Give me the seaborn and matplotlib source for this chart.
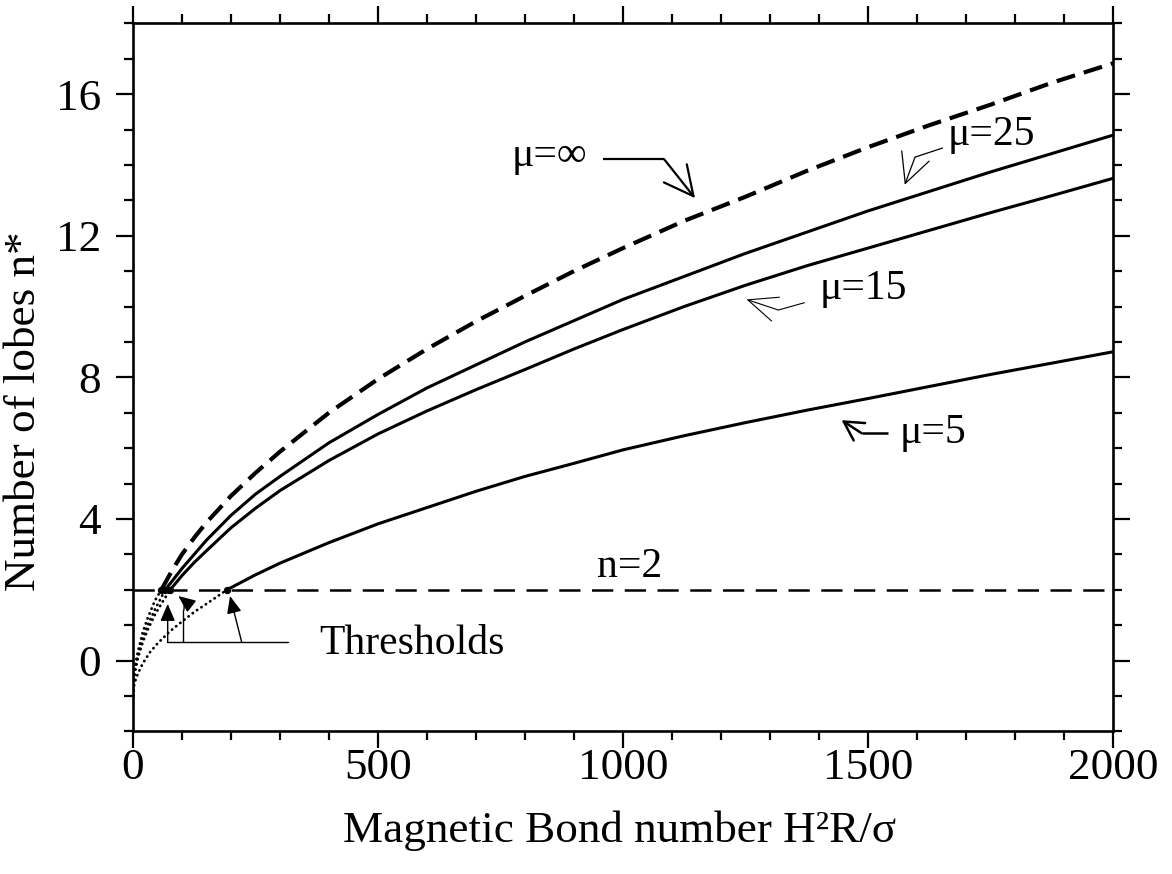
import matplotlib
matplotlib.use("Agg")
import matplotlib.pyplot as plt
import pandas as pd
import seaborn as sns
from matplotlib.ticker import MultipleLocator

# Critical number of lobes n* against magnetic Bond number, per permeability ratio mu.
# "_low" arrays: branch below the n = 2 onset (dotted); others: branch above it (solid / dashed).
bond_inf_low = [0, 2, 5, 10, 20, 30, 45, 58]
lobes_inf_low = [-1.0, -0.45, -0.1, 0.25, 0.8, 1.2, 1.7, 2.0]
bond_inf = [58, 80, 100, 125, 150, 200, 250, 300, 400, 500, 600, 700, 800, 900, 1000,
            1125, 1250, 1375, 1500, 1625, 1750, 1875, 2000]
lobes_inf = [2.0, 2.55, 3.0, 3.47, 3.9, 4.65, 5.3, 5.9, 7.0, 7.95, 8.8, 9.58, 10.3, 11.0, 11.65,
             12.42, 13.1, 13.83, 14.5, 15.12, 15.7, 16.32, 16.87]

bond_25_low = [0, 2, 5, 10, 20, 30, 45, 66]
lobes_25_low = [-1.0, -0.48, -0.18, 0.16, 0.63, 1.0, 1.45, 2.0]
bond_25 = [66, 100, 125, 150, 200, 250, 300, 400, 500, 600, 700, 800, 900, 1000,
           1125, 1250, 1375, 1500, 1625, 1750, 1875, 2000]
lobes_25 = [2.0, 2.6, 3.0, 3.4, 4.1, 4.7, 5.2, 6.15, 6.95, 7.7, 8.35, 9.0, 9.6, 10.2,
            10.85, 11.5, 12.1, 12.7, 13.25, 13.8, 14.32, 14.84]

bond_15_low = [0, 2, 5, 10, 20, 30, 45, 60, 76]
lobes_15_low = [-1.0, -0.52, -0.25, 0.07, 0.52, 0.87, 1.3, 1.65, 2.0]
bond_15 = [76, 100, 125, 150, 200, 250, 300, 400, 500, 600, 700, 800, 900, 1000,
           1125, 1250, 1375, 1500, 1625, 1750, 1875, 2000]
lobes_15 = [2.0, 2.4, 2.77, 3.1, 3.75, 4.3, 4.8, 5.65, 6.4, 7.05, 7.65, 8.22, 8.8, 9.35,
            10.0, 10.6, 11.15, 11.65, 12.15, 12.65, 13.13, 13.62]

bond_5_low = [0, 2, 5, 10, 20, 35, 50, 75, 100, 125, 150, 192]
lobes_5_low = [-1.0, -0.72, -0.56, -0.37, -0.08, 0.24, 0.48, 0.82, 1.1, 1.37, 1.6, 2.0]
bond_5 = [192, 250, 300, 400, 500, 600, 700, 800, 900, 1000, 1125, 1250, 1375, 1500,
          1625, 1750, 1875, 2000]
lobes_5 = [2.0, 2.42, 2.75, 3.33, 3.86, 4.32, 4.78, 5.2, 5.57, 5.95, 6.35, 6.72, 7.07, 7.4,
           7.74, 8.08, 8.4, 8.72]

onset_bond = [0, 2000]
onset_lobes = [2, 2]

x_ticks = [0, 500, 1000, 1500, 2000]
y_ticks = [0, 4, 8, 12, 16]

INK = "black"
sns.set_theme(style="ticks")
plt.rcParams["font.family"] = ["Liberation Serif", "DejaVu Serif"]
plt.rcParams["font.size"] = 30
plt.rcParams["axes.linewidth"] = 1.9
plt.rcParams["text.color"] = INK
plt.rcParams["axes.labelcolor"] = INK
plt.rcParams["xtick.color"] = INK
plt.rcParams["ytick.color"] = INK

fig = plt.figure(figsize=(11.72, 8.74), dpi=100)
ax = fig.add_axes([133 / 1172, 1 - 731.3 / 874, 980 / 1172, 708 / 874])

dotted = (0, (0.1, 1.8))

# dotted sub-critical branches
for bx, ly in [(bond_inf_low, lobes_inf_low), (bond_25_low, lobes_25_low),
               (bond_15_low, lobes_15_low), (bond_5_low, lobes_5_low)]:
    sns.lineplot(x=bx, y=ly, ax=ax, color=INK, lw=2.0, linestyle=dotted,
                 dash_capstyle="round", sort=False, estimator=None)

# onset level n = 2
sns.lineplot(x=onset_bond, y=onset_lobes, ax=ax, color=INK, lw=1.8,
             linestyle=(0, (8.5, 4.6)), sort=False, estimator=None)

# mu = infinity (thick dashed)
sns.lineplot(x=bond_inf, y=lobes_inf, ax=ax, color=INK, lw=3.0,
             linestyle=(0, (4.6, 2.2)), sort=False, estimator=None)

# finite mu (solid)
for bx, ly in [(bond_25, lobes_25), (bond_15, lobes_15), (bond_5, lobes_5)]:
    sns.lineplot(x=bx, y=ly, ax=ax, color=INK, lw=2.2, sort=False, estimator=None,
                 solid_joinstyle="round")

# onset points
onset_df = pd.DataFrame({
    "bond": [bond_inf[0], bond_25[0], bond_15[0], bond_5[0]],
    "lobes": [lobes_inf[0], lobes_25[0], lobes_15[0], lobes_5[0]],
})
sns.scatterplot(data=onset_df, x="bond", y="lobes", ax=ax, color=INK, s=28,
                edgecolor=INK, linewidth=0, zorder=5)

ax.set_xlim(0, 2000)
ax.set_ylim(-2, 18)
ax.set_xticks(x_ticks)
ax.set_yticks(y_ticks)
ax.xaxis.set_minor_locator(MultipleLocator(100))
ax.yaxis.set_minor_locator(MultipleLocator(1))
ax.tick_params(which="both", direction="out", top=True, right=True,
               labeltop=False, labelright=False, colors=INK, width=1.6)
ax.tick_params(axis="x", which="major", length=12, pad=0, labelsize=32.5)
ax.tick_params(axis="y", which="major", length=12, pad=11, labelsize=32.5)
ax.tick_params(which="minor", length=6.5)
for sp in ax.spines.values():
    sp.set_visible(True)
    sp.set_color(INK)

ax.set_xlabel("Magnetic Bond number H\u00b2R/\u03c3", fontsize=32.5)
ax.set_ylabel("Number of lobes n*", fontsize=32.5)
ax.xaxis.set_label_coords(0.497, -0.112)
ax.yaxis.set_label_coords(-0.091, 0.452)

# curve labels with leader arrows
def leader(points, tip, lw, head):
    xs = [p[0] for p in points]
    ys = [p[1] for p in points]
    ax.plot(xs, ys, color=INK, lw=lw, solid_capstyle="butt")
    ax.annotate("", xy=tip, xytext=points[-1],
                arrowprops=dict(arrowstyle=head, color=INK, lw=lw,
                                shrinkA=0, shrinkB=0))

ax.text(773, 13.96, "\u03bc=\u221e", fontsize=30, ha="left", va="baseline")
leader([(960, 14.16), (1084, 14.16)], (1147, 13.06), 1.6,
       "->,head_length=0.7,head_width=0.35")

ax.text(1663, 14.56, "\u03bc=25", fontsize=30, ha="left", va="baseline")
leader([(1653, 14.48), (1596, 14.22)], (1575, 13.44), 0.9,
       "->,head_length=0.7,head_width=0.35")

ax.text(1402, 10.2, "\u03bc=15", fontsize=30, ha="left", va="baseline")
leader([(1371, 10.11), (1317, 9.90)], (1252, 10.2), 0.8,
       "->,head_length=0.7,head_width=0.3")

ax.text(1565, 6.15, "\u03bc=5", fontsize=30, ha="left", va="baseline")
leader([(1541, 6.42), (1487, 6.42)], (1446, 6.79), 1.8,
       "->,head_length=0.45,head_width=0.25")

ax.text(946, 2.35, "n=2", fontsize=30, ha="left", va="baseline")

ax.text(381, 0.18, "Thresholds", fontsize=30, ha="left", va="baseline")
ax.plot([69.4, 317], [0.52, 0.52], color=INK, lw=1.0)
ax.annotate("", xy=(70.8, 1.6), xytext=(70.8, 0.52),
            arrowprops=dict(arrowstyle="-|>,head_length=0.35,head_width=0.15",
                            color=INK, lw=1.0, shrinkA=0, shrinkB=0))
ax.plot([102.7, 102.7], [0.52, 1.37], color=INK, lw=1.0)
ax.annotate("", xy=(92.4, 1.82), xytext=(102.7, 1.37),
            arrowprops=dict(arrowstyle="-|>,head_length=0.35,head_width=0.15",
                            color=INK, lw=1.0, shrinkA=0, shrinkB=0,
                            connectionstyle="arc3,rad=0.35"))
ax.annotate("", xy=(198, 1.82), xytext=(221.8, 0.52),
            arrowprops=dict(arrowstyle="-|>,head_length=0.35,head_width=0.15",
                            color=INK, lw=1.0, shrinkA=0, shrinkB=0))

fig.savefig("out.png", dpi=100, facecolor="white")
